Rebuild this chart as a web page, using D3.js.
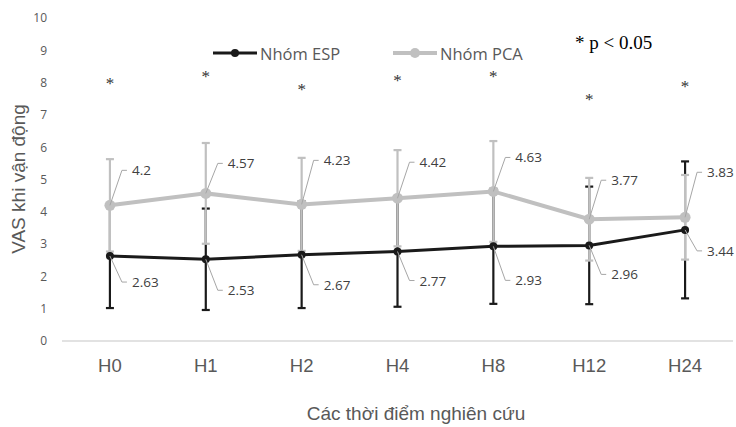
<!DOCTYPE html>
<html><head><meta charset="utf-8">
<script src="https://cdn.jsdelivr.net/npm/d3@7/dist/d3.min.js"></script>
<style>body{margin:0;background:#fff}svg{display:block}</style>
</head><body>
<svg id="c" width="736" height="427"></svg>
<script>
const categories = ["H0","H1","H2","H4","H8","H12","H24"];
const espMean = [2.63,2.53,2.67,2.77,2.93,2.96,3.44];
const espSD   = [1.61,1.57,1.65,1.71,1.78,1.82,2.12];
const pcaMean = [4.2,4.57,4.23,4.42,4.63,3.77,3.83];
const pcaSD   = [1.43,1.56,1.44,1.49,1.56,1.28,1.31];
const starLevels = [8.1,8.3,7.9,8.2,8.3,7.6,8.0];
const yTicks = [0,1,2,3,4,5,6,7,8,9,10];
const seriesNames = ["Nhóm ESP","Nhóm PCA"];

// layout (label nudges in px)
const pcaLabelDy = [-35,-30,-44,-36,-34,-39,-45];
const espLabelDy = [26,31,30,29,34,29,21];

const svg = d3.select("#c");
const x = d3.scaleBand().domain(categories).range([62,733]);
const y = d3.scaleLinear().domain([0,10]).range([341,18]);
const cx = c => x(c) + x.bandwidth()/2;

const black = "#1a1a1a", gray = "#c0c0c0", txt = "#595959";

// baseline
svg.append("line").attr("x1",62).attr("x2",733).attr("y1",y(0)).attr("y2",y(0))
  .attr("stroke","#d9d9d9").attr("stroke-width",1.5);

// y axis
const yAxis = d3.axisLeft(y).tickValues(yTicks).tickSize(0).tickPadding(0);
const ga = svg.append("g").attr("transform","translate(47,0)").call(yAxis);
ga.select(".domain").remove();
ga.selectAll("text").attr("fill",txt).style("font-family","'Open Sans',sans-serif").style("font-size","12px");

// x axis
const xAxis = d3.axisBottom(x).tickSize(0).tickPadding(0);
const gx = svg.append("g").attr("transform","translate(0,358.5)").call(xAxis);
gx.select(".domain").remove();
gx.selectAll("text").attr("fill",txt).style("font-family","'Liberation Sans',Arial,sans-serif").style("font-size","18.5px");

// axis titles
svg.append("text").attr("x",416).attr("y",413).attr("text-anchor","middle").attr("dominant-baseline","central")
  .attr("fill",txt).style("font-family","'Liberation Sans',Arial,sans-serif").style("font-size","19px")
  .text("Các thời điểm nghiên cứu");
svg.append("text").attr("transform","translate(18,179) rotate(-90)").attr("text-anchor","middle").attr("dominant-baseline","central")
  .attr("fill",txt).style("font-family","'Liberation Sans',Arial,sans-serif").style("font-size","19px")
  .text("VAS khi vận động");

function errorBars(mean, sd, color){
  const g = svg.append("g").attr("stroke",color).attr("stroke-width",2.2);
  categories.forEach((c,i)=>{
    const x0 = cx(c), lo = y(mean[i]-sd[i]), hi = y(mean[i]+sd[i]);
    g.append("line").attr("x1",x0).attr("x2",x0).attr("y1",lo).attr("y2",hi);
    g.append("line").attr("x1",x0-4).attr("x2",x0+4).attr("y1",lo).attr("y2",lo);
    g.append("line").attr("x1",x0-4).attr("x2",x0+4).attr("y1",hi).attr("y2",hi);
  });
}
errorBars(espMean, espSD, black);
errorBars(pcaMean, pcaSD, gray);

const line = d3.line().x((d,i)=>cx(categories[i])).y(d=>y(d));
function series(mean, color, w, r){
  svg.append("path").datum(mean).attr("d",line).attr("fill","none").attr("stroke",color).attr("stroke-width",w);
  svg.append("g").selectAll("circle").data(mean).join("circle")
    .attr("cx",(d,i)=>cx(categories[i])).attr("cy",d=>y(d)).attr("r",r).attr("fill",color);
}
series(pcaMean, gray, 4, 5.5);
series(espMean, black, 3, 4);

function labels(mean, dys, leaderColor){
  const g = svg.append("g");
  mean.forEach((v,i)=>{
    const px = cx(categories[i]), py = y(v);
    const ly = py + dys[i];
    g.append("path").attr("d",`M${px},${py}L${px+12},${ly}L${px+17},${ly}`)
      .attr("fill","none").attr("stroke",leaderColor).attr("stroke-width",1);
    g.append("text").attr("x",px+22).attr("y",ly).attr("dominant-baseline","central")
      .attr("fill","#404040").style("font-family","'Open Sans',sans-serif").style("font-size","13.5px")
      .text(v);
  });
}
labels(pcaMean, pcaLabelDy, "#a6a6a6");
labels(espMean, espLabelDy, "#a6a6a6");

// significance stars
svg.append("g").selectAll("text").data(starLevels).join("text")
  .attr("x",(d,i)=>cx(categories[i])).attr("y",d=>y(d)+4).attr("text-anchor","middle").attr("dominant-baseline","central")
  .attr("fill","#333").style("font-family","'Liberation Serif',serif").style("font-size","17px").text("*");

svg.append("text").attr("x",575).attr("y",42).attr("dominant-baseline","central")
  .attr("fill","#000").style("font-family","'Liberation Serif','Times New Roman',serif").style("font-size","19px")
  .text("* p < 0.05");

// legend
const legend = [{name:seriesNames[0],color:black,x:213,w:3,r:4},{name:seriesNames[1],color:gray,x:393,w:4,r:5}];
legend.forEach(l=>{
  svg.append("line").attr("x1",l.x).attr("x2",l.x+44).attr("y1",53).attr("y2",53).attr("stroke",l.color).attr("stroke-width",l.w);
  svg.append("circle").attr("cx",l.x+22).attr("cy",53).attr("r",l.r).attr("fill",l.color);
  svg.append("text").attr("x",l.x+47).attr("y",53).attr("dominant-baseline","central")
    .attr("fill",txt).style("font-family","'Open Sans',sans-serif").style("font-size","16.5px").text(l.name);
});
</script>
</body></html>
